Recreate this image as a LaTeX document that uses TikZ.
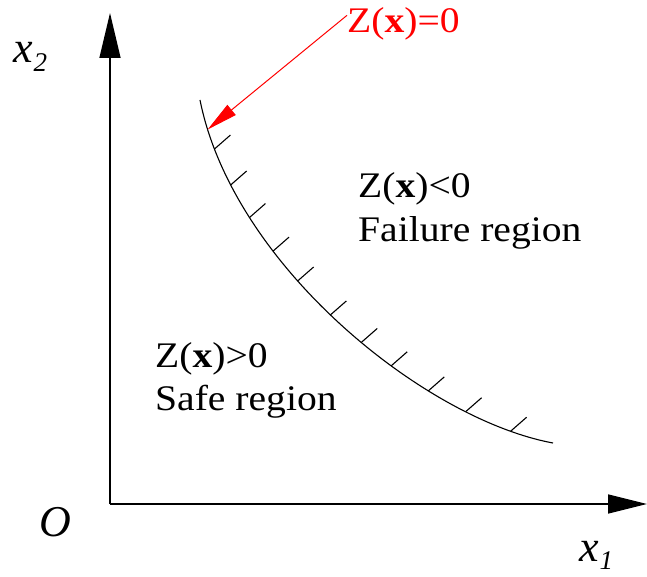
\documentclass[tikz,border=0pt]{standalone}
\usepackage{fontspec}
\setmainfont{Liberation Serif}
\newfontfamily\lbl[FakeStretch=1.1]{Liberation Serif}
\usetikzlibrary{arrows.meta}
\tikzset{
  axisline/.style={line width=1.4pt},
  curveline/.style={line width=1.1pt},
  tickline/.style={line width=1.1pt},
  redarrow/.style={red, line width=1pt, -{Triangle[length=31pt,width=13pt]}},
  lbltext/.style={anchor=base west, inner sep=0pt, font=\lbl\fontsize{36}{40}\selectfont},
  axlbl/.style={anchor=base west, inner sep=0pt, font=\fontsize{44}{50}\selectfont\itshape},
}
\begin{document}
\begin{tikzpicture}[x=1pt,y=-1pt]
\useasboundingbox (0,0) rectangle (647,577);
% axes
\coordinate (O) at (110,504);
\coordinate (ytip) at (110,13);
\coordinate (xtip) at (647,504);
\draw[axisline, -{Triangle[length=45pt,width=21pt]}] (O) -- (ytip);
\draw[axisline, -{Triangle[length=39pt,width=19pt]}] (O) -- (xtip);
% axis labels
\node[axlbl] (lx2) at (13,63) {x\kern1pt\raisebox{-9pt}{\fontsize{27}{27}\selectfont 2}};
\node[axlbl] (lx1) at (579,561) {x\kern1pt\raisebox{-8pt}{\fontsize{27}{27}\selectfont 1}};
\node[axlbl] (lO) at (39,536) {O};
% limit state curve with hatching positions
\draw[curveline] (200,100) .. controls (233,265) and (424,419) .. (553,443)
  coordinate[pos=0.06] (hit)
  coordinate[pos=0.10] (t1)
  coordinate[pos=0.175] (t2)
  coordinate[pos=0.245] (t3)
  coordinate[pos=0.32] (t4)
  coordinate[pos=0.39] (t5)
  coordinate[pos=0.475] (t6)
  coordinate[pos=0.55] (t7)
  coordinate[pos=0.62] (t8)
  coordinate[pos=0.705] (t9)
  coordinate[pos=0.79] (t10)
  coordinate[pos=0.895] (t11);
% hatching ticks
\foreach \k in {1,...,11} {
  \draw[tickline] (t\k) -- ++(16,-14);
}
% labels
\node[lbltext, red] (zlab) at (347,33) {Z(\textbf{x})=0};
\draw[redarrow] (zlab.west) ++(0,-9) coordinate (zs) (zs) -- (hit);
\node[lbltext] (fail1) at (358,198) {Z(\textbf{x})<0};
\node[lbltext] (fail2) at (358,241) {Failure region};
\node[lbltext] (safe1) at (155,367) {Z(\textbf{x})>0};
\node[lbltext] (safe2) at (155,410) {Safe region};
\end{tikzpicture}
\end{document}
